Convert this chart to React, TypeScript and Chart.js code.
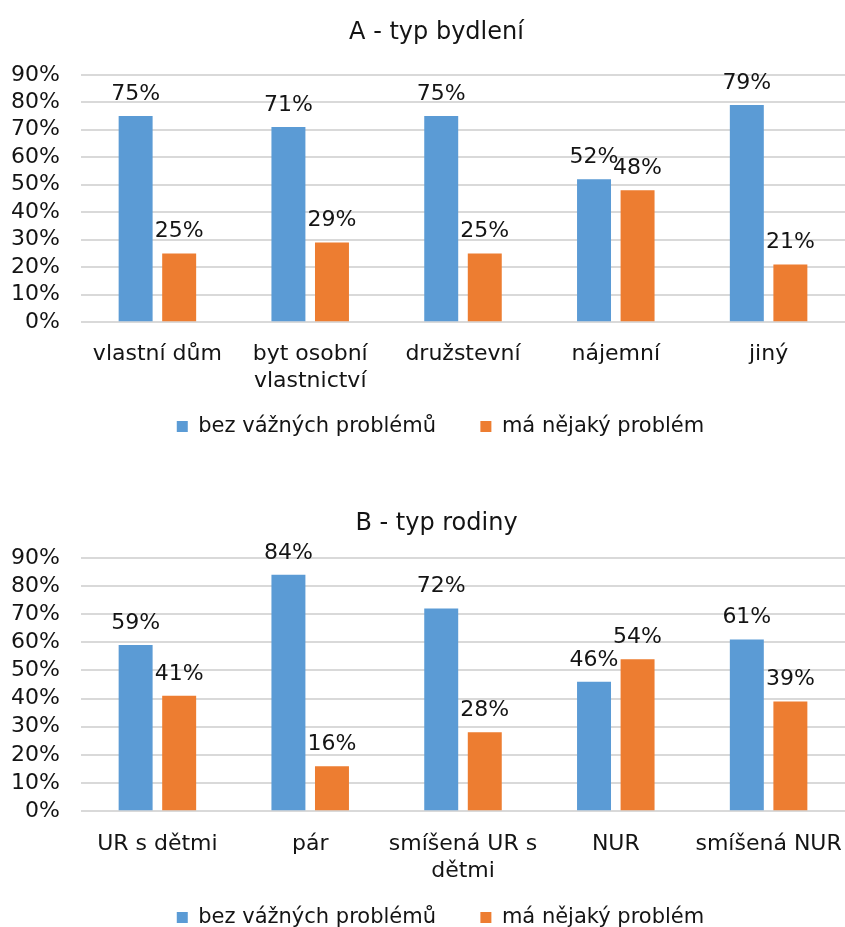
import React, { useEffect, useRef } from "react";
import { Chart, registerables } from "chart.js";
Chart.register(...registerables);

const seriesNames = ["bez vážných problémů", "má nějaký problém"];
const colors = ["#5B9BD5", "#ED7D31"];

const titleA = "A - typ bydlení";
const categoriesA: (string | string[])[] = ["vlastní dům", ["byt osobní", "vlastnictví"], "družstevní", "nájemní", "jiný"];
const blueA = [75, 71, 75, 52, 79];
const orangeA = [25, 29, 25, 48, 21];

const titleB = "B - typ rodiny";
const categoriesB: (string | string[])[] = ["UR s dětmi", "pár", ["smíšená UR s", "dětmi"], "NUR", "smíšená NUR"];
const blueB = [59, 84, 72, 46, 61];
const orangeB = [41, 16, 28, 54, 39];

const FONT = "'DejaVu Sans', Verdana, sans-serif";
const TEXT = "#141414";

const labelPlugin = {
  id: "valueLabels",
  beforeDraw(chart: any) {
    if (chart.legend && !chart.legend._shifted) {
      chart.legend.left += 36;
      chart.legend._shifted = true;
    }
    if (chart.titleBlock && !chart.titleBlock._shifted) {
      chart.titleBlock.left += 28;
      chart.titleBlock._shifted = true;
    }
  },
  afterDatasetsDraw(chart: any) {
    const ctx = chart.ctx;
    ctx.save();
    ctx.font = `22px ${FONT}`;
    ctx.fillStyle = TEXT;
    ctx.textAlign = "center";
    ctx.textBaseline = "alphabetic";
    chart.data.datasets.forEach((ds: any, i: number) => {
      const meta = chart.getDatasetMeta(i);
      meta.data.forEach((bar: any, j: number) => {
        ctx.fillText(`${ds.data[j]}%`, bar.x, bar.y - 16);
      });
    });
    ctx.restore();
  },
};

function BarChart({ title, categories, blue, orange, height, titleTop, titleBottom, xPad, legendPad }: any) {
  const ref = useRef<HTMLCanvasElement>(null);
  useEffect(() => {
    const chart = new Chart(ref.current!, {
      type: "bar",
      data: {
        labels: categories,
        datasets: [
          { label: seriesNames[0] + "     ", data: blue, backgroundColor: colors[0], categoryPercentage: 0.57, barPercentage: 0.78 },
          { label: seriesNames[1], data: orange, backgroundColor: colors[1], categoryPercentage: 0.57, barPercentage: 0.78 },
        ],
      },
      options: {
        responsive: false,
        animation: false,
        devicePixelRatio: 1,
        layout: { padding: { left: 0, right: 0, top: 0, bottom: 0 } },
        plugins: {
          title: {
            display: true,
            text: title,
            color: TEXT,
            font: { family: FONT, size: 24, weight: "normal" },
            padding: { top: titleTop, bottom: titleBottom },
          },
          legend: {
            position: "bottom",
            labels: {
              color: TEXT,
              font: { family: FONT, size: 21 },
              boxWidth: 11,
              boxHeight: 11,
              padding: legendPad,
            },
          },
          tooltip: { enabled: false },
        },
        scales: {
          x: {
            grid: { display: false },
            border: { display: false },
            ticks: { color: TEXT, font: { family: FONT, size: 22 }, padding: xPad, maxRotation: 0, autoSkip: false },
            afterFit: (scale: any) => {
              scale.paddingLeft = 0;
              scale.paddingRight = 0;
            },
          },
          y: {
            min: 0,
            max: 90,
            grid: { color: "#d9d9d9", lineWidth: 2, drawTicks: false },
            border: { display: false },
            ticks: {
              stepSize: 10,
              autoSkip: false,
              color: TEXT,
              font: { family: FONT, size: 22 },
              padding: 21,
              callback: (v: any) => `${v}%`,
            },
            afterFit: (scale: any) => {
              scale.width = 81;
            },
          },
        },
      },
      plugins: [labelPlugin],
    });
    return () => chart.destroy();
  }, []);
  return <canvas ref={ref} width={845} height={height} style={{ display: "block" }} />;
}

export default function App() {
  useEffect(() => {
    document.body.style.margin = "0";
    document.body.style.overflow = "hidden";
  }, []);
  return (
    <div style={{ width: 845, height: 927, overflow: "hidden" }}>
      <BarChart title={titleA} categories={categoriesA} blue={blueA} orange={orangeA} height={447} titleTop={18} titleBottom={28} xPad={11} legendPad={11} />
      <BarChart title={titleB} categories={categoriesB} blue={blueB} orange={orangeB} height={491} titleTop={62} titleBottom={20} xPad={12} legendPad={11} />
    </div>
  );
}
